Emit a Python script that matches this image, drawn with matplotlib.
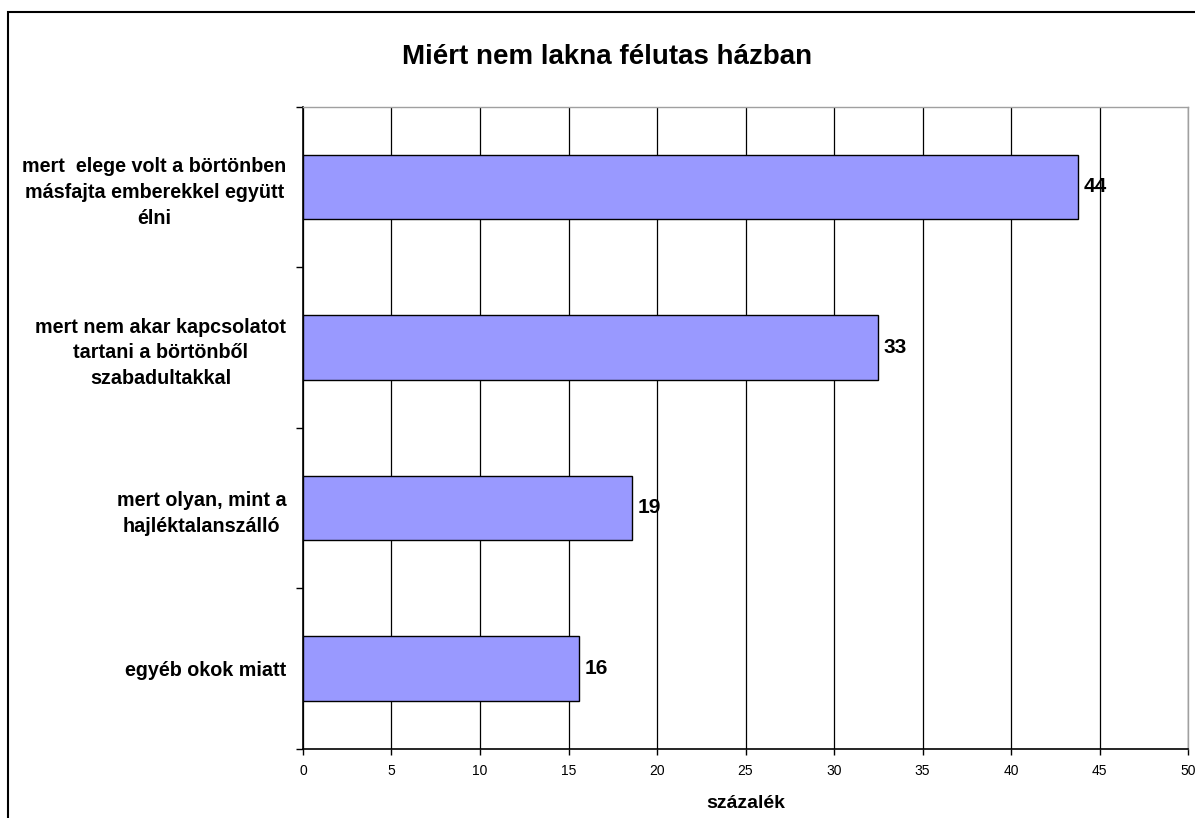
import matplotlib
matplotlib.use("Agg")
import matplotlib.pyplot as plt
from matplotlib.patches import Rectangle
import numpy as np

plt.rcParams['font.family'] = ['Liberation Sans', 'DejaVu Sans']

title = "Miért nem lakna félutas házban"
categories = [
    "mert  elege volt a börtönben\nmásfajta emberekkel együtt\nélni",
    "mert nem akar kapcsolatot\ntartani a börtönből\nszabadultakkal",
    "mert olyan, mint a\nhajléktalanszálló",
    "egyéb okok miatt",
]
values = [43.8, 32.5, 18.6, 15.6]
value_labels = ["44", "33", "19", "16"]
xticks = [0, 5, 10, 15, 20, 25, 30, 35, 40, 45, 50]
xlabel = "százalék"

W, H = 1195, 818
fig = plt.figure(figsize=(W / 100, H / 100), dpi=100)
fig.patch.set_facecolor('white')

left, right = 303 / W, 1188 / W
top, bottom = 1 - 106.7 / H, 1 - 748.7 / H
ax = fig.add_axes([left, bottom, right - left, top - bottom])

n = len(categories)
ypos = np.arange(n)
ax.barh(ypos, values, height=0.4, color='#9999FF', edgecolor='black', linewidth=1.0, zorder=3)

for y, v, lab in zip(ypos, values, value_labels):
    ax.annotate(lab, xy=(v, y), xytext=(4, 0), textcoords='offset points',
                ha='left', va='center', fontsize=15, fontweight='bold', zorder=4)

ax.set_xlim(0, 50)
ax.set_ylim(n - 0.5, -0.5)
ax.set_xticks(xticks)
ax.set_xticklabels([str(t) for t in xticks], fontsize=10)
ax.tick_params(axis='x', direction='out', length=4, width=1, pad=7)

ax.set_yticks(ypos)
ax.set_yticklabels(categories, fontsize=14.2, fontweight='bold')
for t in ax.get_yticklabels():
    t.set_multialignment('center')
    t.set_linespacing(1.45)
ax.tick_params(axis='y', which='major', length=0, pad=12)
ax.set_yticks(np.arange(-0.5, n, 1.0), minor=True)
ax.tick_params(axis='y', which='minor', direction='out', length=5, width=1)

ax.xaxis.grid(True, color='black', linewidth=0.9, zorder=0)
ax.set_axisbelow(True)

for s in ['left', 'bottom']:
    ax.spines[s].set_color('black')
    ax.spines[s].set_linewidth(1.2)
for s in ['top', 'right']:
    ax.spines[s].set_color('#a0a0a0')
    ax.spines[s].set_linewidth(1.0)

ax.set_xlabel(xlabel, fontsize=14, fontweight='bold', labelpad=12)

fig.text(607 / W, 1 - 57 / H, title, ha='center', va='center', fontsize=20, fontweight='bold')

frame = Rectangle((8 / W, -0.05), 1.2, (1 - 12.3 / H) + 0.05, transform=fig.transFigure,
                  fill=False, edgecolor='black', linewidth=1.5, clip_on=False)
fig.add_artist(frame)

fig.savefig('out.png', dpi=100)
